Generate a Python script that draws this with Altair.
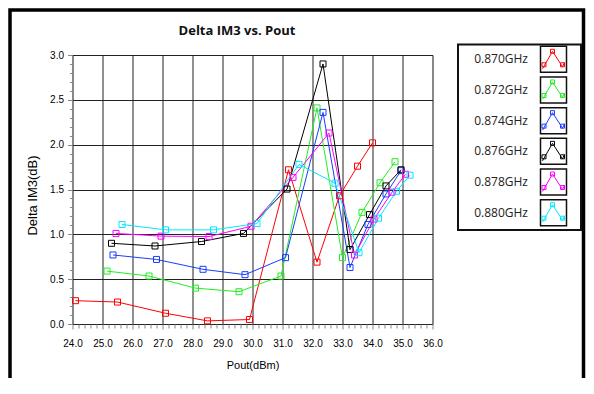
import altair as alt
import pandas as pd

title_text = ["Delta IM3 vs. Pout"]
series = ["0.870GHz", "0.872GHz", "0.874GHz", "0.876GHz", "0.878GHz", "0.880GHz"]
colors = ["#ff0000", "#22ee22", "#1a3cff", "#000000", "#ff00ff", "#00e8ff"]

x_870 = [24.1, 25.5, 27.1, 28.5, 29.9, 31.2, 32.15, 32.9, 33.5, 34.0]
y_870 = [0.26, 0.245, 0.12, 0.035, 0.05, 1.72, 0.69, 1.43, 1.76, 2.02]
x_872 = [25.15, 26.55, 28.1, 29.55, 30.95, 32.15, 33.0, 33.65, 34.25, 34.75]
y_872 = [0.59, 0.535, 0.40, 0.36, 0.535, 2.41, 0.74, 1.245, 1.575, 1.81]
x_874 = [25.35, 26.8, 28.35, 29.75, 31.1, 32.35, 33.25, 33.85, 34.45, 34.95]
y_874 = [0.77, 0.72, 0.61, 0.55, 0.74, 2.36, 0.63, 1.11, 1.45, 1.71]
x_876 = [25.3, 26.75, 28.3, 29.7, 31.15, 32.35, 33.25, 33.9, 34.45, 34.95]
y_876 = [0.90, 0.87, 0.92, 1.01, 1.505, 2.90, 0.83, 1.22, 1.54, 1.72]
x_878 = [25.45, 26.95, 28.55, 29.95, 31.35, 32.55, 33.4, 34.05, 34.65, 35.1]
y_878 = [1.01, 0.98, 0.975, 1.09, 1.635, 2.13, 0.77, 1.17, 1.47, 1.67]
x_880 = [25.65, 27.1, 28.7, 30.15, 31.55, 32.75, 33.55, 34.2, 34.8, 35.25]
y_880 = [1.11, 1.05, 1.05, 1.12, 1.78, 1.57, 0.795, 1.18, 1.48, 1.66]

x_ticks = [round(24 + 0.2 * i, 1) for i in range(61)]
y_ticks = [round(0.1 * i, 1) for i in range(31)]

xs = [x_870, x_872, x_874, x_876, x_878, x_880]
ys = [y_870, y_872, y_874, y_876, y_878, y_880]
rows = []
for s, xv, yv in zip(series, xs, ys):
    for i, (a, b) in enumerate(zip(xv, yv)):
        rows.append({"series": s, "pout": a, "dim3": b, "idx": i})
df = pd.DataFrame(rows)
leg = pd.DataFrame({"series": series})

FONT = "Open Sans"
TXT = "#222222"
GRID = "#222222"

x_major = "abs(datum.value - round(datum.value)) < 0.01"
y_major = "abs(datum.value * 2 - round(datum.value * 2)) < 0.01"

x_axis = alt.Axis(
    values=x_ticks,
    labelExpr=f"{x_major} ? format(datum.value, '.1f') : ''",
    grid=True,
    gridColor={"condition": {"test": x_major, "value": GRID}, "value": "transparent"},
    tickSize={"condition": {"test": x_major, "value": 5}, "value": 4},
    title="Pout(dBm)",
    titleFontWeight="normal",
    labelPadding=9,
    titlePadding=11,
    domain=False,
    labelOverlap=False,
    labelFlush=False,
)
y_axis = alt.Axis(
    values=y_ticks,
    labelExpr=f"{y_major} ? format(datum.value, '.1f') : ''",
    grid=True,
    gridColor={"condition": {"test": y_major, "value": GRID}, "value": "transparent"},
    tickSize={"condition": {"test": y_major, "value": 5}, "value": 3},
    title="Delta IM3(dB)",
    titleFontWeight="normal",
    titleFontSize=13,
    titleY=140,
    labelPadding=4,
    titlePadding=10,
    domain=False,
    labelOverlap=False,
    labelFlush=False,
)

color = alt.Color("series:N", scale=alt.Scale(domain=series, range=colors), legend=None)

base = alt.Chart(df).encode(
    x=alt.X("pout:Q", scale=alt.Scale(domain=[24, 36], nice=False, zero=False), axis=x_axis),
    y=alt.Y("dim3:Q", scale=alt.Scale(domain=[0, 3], nice=False, zero=False), axis=y_axis),
    color=color,
    detail="series:N",
    order="idx:Q",
)
lines = base.mark_line(strokeWidth=1)
pts = base.mark_point(shape="square", size=36, filled=False, strokeWidth=1, opacity=1)
main = alt.layer(lines, pts)

leg_y = alt.Y("series:N", scale=alt.Scale(type="point", domain=series, range=[4.3, 157.7], padding=0), axis=None)

one = pd.DataFrame({"title": title_text})

leg_box = alt.Chart(one).mark_rect(
    fillOpacity=0, stroke="#111111", strokeWidth=2
).encode(x=alt.value(385.5), x2=alt.value(508.5), y=alt.value(-10.5), y2=alt.value(175))

frame = alt.Chart(one).mark_rect(
    fillOpacity=0, stroke="#000000", strokeWidth=3.5
).encode(x=alt.value(-62.5), x2=alt.value(511), y=alt.value(-45), y2=alt.value(400))

title = alt.Chart(one).mark_text(
    align="center", baseline="alphabetic", font=FONT, fontSize=13, fontWeight="bold", color="#111111"
).encode(x=alt.value(164.5), y=alt.value(-20), text="title:N")

leg_text = alt.Chart(leg).mark_text(
    align="right", baseline="middle", font=FONT, fontSize=12, color=TXT
).encode(x=alt.value(455.5), y=leg_y, text="series:N")

leg_swatch = alt.Chart(leg).mark_point(
    shape="square", size=676, filled=False, stroke="#111111", strokeWidth=1.5, opacity=1
).encode(x=alt.value(481), y=leg_y)

icon_path = (
    "M -1.1 0.95 L -0.1 -0.8 L 0.9 0.75 L 1.1 0.3 "
    "M -1.15 0.35 h 0.4 v 0.4 h -0.4 Z "
    "M -0.3 -1.0 h 0.4 v 0.4 h -0.4 Z "
    "M 0.7 0.35 h 0.4 v 0.4 h -0.4 Z"
)
leg_icon = alt.Chart(leg).mark_point(
    shape=icon_path, size=400, filled=False, strokeWidth=1, opacity=1
).encode(x=alt.value(481), y=leg_y, color=color)

chart = (
    alt.layer(frame, title, main, leg_box, leg_text, leg_swatch, leg_icon)
    .resolve_scale(y="independent")
    .resolve_axis(y="independent")
    .properties(
        width=360,
        height=269,
        autosize=alt.AutoSizeParams(type="none"),
        padding={"left": 64.5, "top": 47, "right": 153.5, "bottom": 54},
    )
    .configure_view(stroke="#222222", strokeWidth=1.5)
    .configure_axis(
        gridWidth=1.5, tickColor="#222222", tickWidth=1,
        labelFont=FONT, labelFontSize=12, labelColor=TXT,
        titleFont=FONT, titleFontSize=12, titleColor=TXT,
    )
    .configure(background="white")
)

chart.save("out.html", embed_options={"renderer": "svg", "actions": False})
